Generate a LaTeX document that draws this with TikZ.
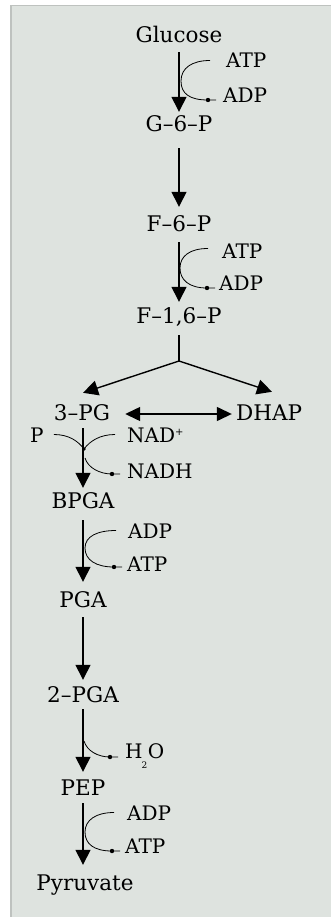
\documentclass[tikz,border=0pt]{standalone}
\usepackage{fontspec}
\setmainfont{DejaVu Serif}
\usetikzlibrary{arrows.meta,calc}
\definecolor{panel}{RGB}{222,227,223}
\definecolor{panelborder}{RGB}{190,194,191}
\begin{document}
\begin{tikzpicture}[x=1pt,y=-1pt,
  met/.style={inner sep=0pt, text height=15pt, text depth=0pt, anchor=base, font=\fontsize{21.5}{24}\selectfont},
  cofac/.style={inner sep=0pt, text height=15pt, text depth=0pt, anchor=base west, font=\fontsize{20}{24}\selectfont},
  main/.style={line width=1.4pt, -{Triangle[length=15pt,width=15pt]}},
  mainline/.style={line width=1.4pt},
  both/.style={line width=1.4pt, {Triangle[length=15pt,width=14pt]}-{Triangle[length=15pt,width=14pt]}},
  cof/.style={line width=0.8pt},
  cofdot/.style={radius=2.2pt}]
% background panel
\useasboundingbox (0,0) rectangle (331,917);
\fill[white] (0,0) rectangle (331,917);
\fill[panel] (10,5) rectangle (331,917);
\fill[panelborder] (10,5) rectangle (12,917);
\fill[panelborder] (10,5) rectangle (331,6);

% metabolites
\node[met] (glc)  at (179,43)  {Glucose};
\node[met] (g6p)  at (179,132) {G–6–P};
\node[met] (f6p)  at (179,232) {F–6–P};
\node[met] (f16p) at (179,323) {F–1,6–P};
\coordinate (br) at (179,361);
\node[met] (pg3)  at (82,420)  {3–PG};
\node[met] (dhap) at (269,420) {DHAP};
\node[met] (bpga) at (83,508)  {BPGA};
\node[met] (pga)  at (83,607)  {PGA};
\node[met] (pga2) at (83,702)  {2–PGA};
\node[met] (pep)  at (83,795)  {PEP};
\node[met] (pyr)  at (85,890)  {Pyruvate};

% main arrows
\draw[main] ([yshift=-9pt]glc.south) -- ([yshift=5pt]g6p.north);
\draw[main] ([yshift=-16pt]g6p.south) -- ([yshift=10pt]f6p.north);
\draw[main] ([yshift=-10pt]f6p.south) -- ([yshift=6pt]f16p.north);
\draw[mainline] ([yshift=-12pt]f16p.south) -- (br);
\draw[main] (br) -- ([xshift=1pt,yshift=12pt]pg3.north);
\draw[main] (br) -- ([xshift=3pt,yshift=13pt]dhap.north);
\draw[both] ([xshift=15pt,yshift=-1.5pt]pg3.east) -- ([xshift=-4pt,yshift=-1.5pt]dhap.west);
\draw[main] ([xshift=1pt,yshift=-8pt]pg3.south) -- ([yshift=5pt]bpga.north);
\draw[main] ([yshift=-12pt]bpga.south) -- ([yshift=10pt]pga.north);
\draw[main] ([yshift=-10pt]pga.south) -- ([yshift=7pt]pga2.north);
\draw[main] ([yshift=-7pt]pga2.south) -- ([yshift=8pt]pep.north);
\draw[main] ([yshift=-8pt]pep.south) -- ([xshift=-2pt,yshift=10pt]pyr.north);

% cofactors
\node[cofac] (atp1) at (226,68)  {ATP};
\node[cofac] (adp1) at (223,103) {ADP};
\node[cofac] (atp2) at (222,258) {ATP};
\node[cofac] (adp2) at (219,290) {ADP};
\node[cofac] (p)    at (30,442)  {P};
\node[cofac] (nadp) at (127,442) {NAD\raisebox{7pt}{\fontsize{10}{10}\selectfont +}};
\node[cofac] (nadh) at (127,478) {NADH};
\node[cofac] (adp3) at (128,538) {ADP};
\node[cofac] (atp3) at (127,571) {ATP};
\node[cofac] (h2o)  at (125,758) {H\kern-1pt\raisebox{-10pt}{\fontsize{9}{9}\selectfont 2}\kern0.5pt O};
\node[cofac] (adp4) at (127,820) {ADP};
\node[cofac] (atp4) at (125,853) {ATP};

% cofactor curves
\draw[cof] ($(atp1.west)+(-16,0)$) .. controls +(-18,0) and +(0,-13) .. (181,81)
   .. controls +(0,13) and +(-18,0) .. ($(adp1.base west)+(-15,-3)$) coordinate (d1) -- ($(adp1.base west)+(-7,-3)$);
\fill[cofdot] (d1) circle;
\draw[cof] ($(atp2.west)+(-14,-2)$) .. controls +(-18,0) and +(0,-12) .. (180,268)
   .. controls +(0,12) and +(-18,0) .. ($(adp2.base west)+(-12,-2)$) coordinate (d2) -- ($(adp2.base west)+(-4,-2)$);
\fill[cofdot] (d2) circle;
\draw[cof] ($(adp3.west)+(-12,0)$) .. controls +(-18,0) and +(0,-12) .. (85,548)
   .. controls +(0,12) and +(-18,0) .. ($(atp3.base west)+(-13,-4)$) coordinate (d3) -- ($(atp3.base west)+(-5,-4)$);
\fill[cofdot] (d3) circle;
\draw[cof] ($(adp4.west)+(-13,0)$) .. controls +(-18,0) and +(0,-12) .. (85,832)
   .. controls +(0,12) and +(-18,0) .. ($(atp4.base west)+(-13,-2)$) coordinate (d4) -- ($(atp4.base west)+(-5,-2)$);
\fill[cofdot] (d4) circle;
% P + NAD+ -> NADH
\coordinate (j) at (84,449);
\draw[cof] ($(p.east)+(10,0)$) .. controls +(15,0) and +(-6,-8) .. (j);
\draw[cof] ($(nadp.west)+(-12,0)$) .. controls +(-15,0) and +(6,-8) .. (j);
\fill[radius=1.8pt] (j) circle;
\draw[cof] (85,458) .. controls +(3,10) and +(-12,0) .. ($(nadh.base west)+(-15,-4)$) coordinate (d5) -- ($(nadh.base west)+(-7,-4)$);
\fill[cofdot] (d5) circle;
% H2O
\draw[cof] (84,741) .. controls +(3,10) and +(-12,0) .. ($(h2o.base west)+(-15,-1)$) coordinate (d6) -- ($(h2o.base west)+(-7,-1)$);
\fill[cofdot] (d6) circle;
\end{tikzpicture}
\end{document}
